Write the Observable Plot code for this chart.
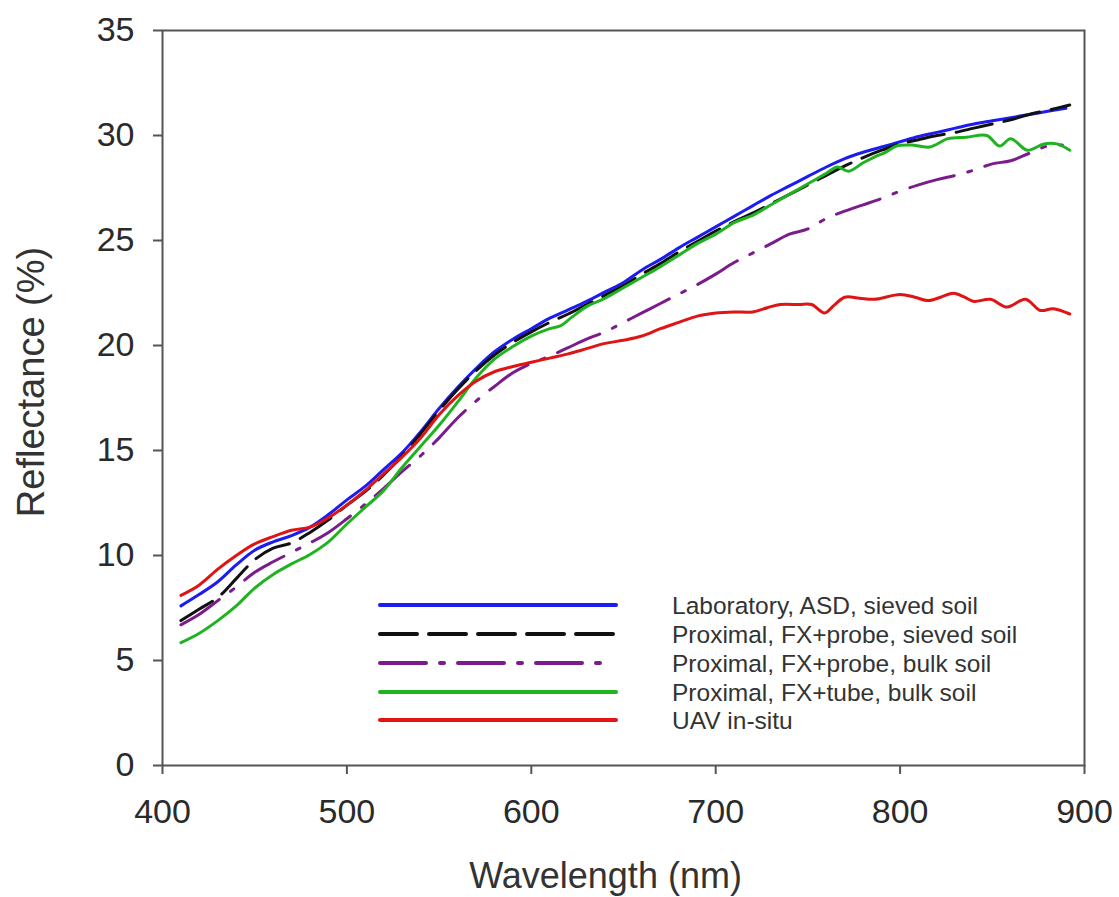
<!DOCTYPE html>
<html>
<head>
<meta charset="utf-8">
<script src="https://cdn.jsdelivr.net/npm/d3@7"></script>
<script src="https://cdn.jsdelivr.net/npm/@observablehq/plot@0.6"></script>
<style>
  html, body { margin: 0; padding: 0; background: #fff; }
  #chart svg { display: block; }
</style>
</head>
<body>
<div id="chart"></div>
<script>
// ---- Data ----
const xTicks = [400, 500, 600, 700, 800, 900];
const yTicks = [0, 5, 10, 15, 20, 25, 30, 35];

const seriesNames = [
  "Laboratory, ASD, sieved soil",
  "Proximal, FX+probe, sieved soil",
  "Proximal, FX+probe, bulk soil",
  "Proximal, FX+tube, bulk soil",
  "UAV in-situ"
];
const seriesColors = ["#1c1cf0", "#111111", "#7a1c8c", "#1fb41f", "#e01414"];
const seriesDash = [null, "37,12", "46,14,4,14", null, null];

// Laboratory, ASD, sieved soil
const labWl = [410,420,430,440,450,460,470,480,490,500,510,520,530,540,550,560,570,580,590,600,610,620,630,640,650,660,670,680,690,700,710,720,730,740,750,760,770,780,790,800,810,820,830,840,850,860,870,880,890];
const labR  = [7.6,8.15,8.75,9.55,10.25,10.65,10.95,11.35,11.95,12.65,13.3,14.1,14.9,15.9,17.0,18.0,18.9,19.7,20.3,20.8,21.3,21.7,22.1,22.55,23.0,23.6,24.1,24.65,25.15,25.65,26.15,26.65,27.15,27.6,28.05,28.5,28.9,29.2,29.45,29.7,29.95,30.15,30.35,30.55,30.7,30.85,31.0,31.15,31.3];

// Proximal, FX+probe, sieved soil
const probeSievedWl = [410,420,430,440,450,460,470,480,490,500,510,520,530,540,550,560,570,580,590,600,610,620,630,640,650,660,670,680,690,700,710,720,730,740,750,760,770,780,790,800,810,820,830,840,850,860,870,880,892];
const probeSievedR  = [6.9,7.45,8.0,8.9,9.8,10.35,10.6,11.1,11.7,12.4,13.05,13.85,14.75,15.8,16.9,17.9,18.8,19.55,20.15,20.65,21.1,21.5,21.95,22.4,22.85,23.4,23.9,24.45,24.95,25.45,25.9,26.3,26.75,27.2,27.65,28.1,28.55,28.95,29.3,29.6,29.8,30.0,30.15,30.35,30.55,30.75,31.0,31.2,31.45];

// Proximal, FX+probe, bulk soil
const probeBulkWl = [410,420,430,440,450,460,470,480,490,500,510,520,530,540,550,560,570,580,590,600,610,620,630,640,650,660,670,680,690,700,710,720,730,740,750,760,770,780,790,800,810,820,830,840,850,860,870,880,888];
const probeBulkR  = [6.7,7.2,7.85,8.5,9.2,9.7,10.15,10.6,11.1,11.75,12.45,13.2,14.0,14.75,15.6,16.55,17.35,18.05,18.7,19.15,19.5,19.9,20.3,20.65,21.1,21.55,22.0,22.45,22.9,23.4,23.95,24.4,24.85,25.3,25.55,26.05,26.4,26.7,27.0,27.35,27.65,27.9,28.1,28.35,28.65,28.8,29.15,29.5,29.55];

// Proximal, FX+tube, bulk soil
const tubeWl = [410,420,430,440,450,460,470,480,490,500,510,520,530,540,550,560,570,580,590,600,610,616,622,630,640,650,660,670,680,690,700,710,720,730,740,750,760,766,772,780,786,792,798,806,816,826,836,847,854,860,869,878,885,892];
const tubeR  = [5.85,6.3,6.9,7.6,8.45,9.1,9.6,10.05,10.65,11.5,12.3,13.1,14.2,15.2,16.2,17.3,18.45,19.35,19.95,20.45,20.8,20.95,21.35,21.85,22.25,22.75,23.25,23.75,24.3,24.85,25.3,25.85,26.2,26.7,27.2,27.7,28.2,28.5,28.3,28.7,28.97,29.2,29.5,29.55,29.45,29.85,29.92,30.0,29.5,29.85,29.3,29.6,29.6,29.3];

// UAV in-situ
const uavWl = [410,420,430,440,450,460,470,480,490,500,510,520,530,540,550,560,570,580,590,600,610,620,630,640,650,660,670,680,690,700,710,720,728,735,745,752,759,764,770,778,786,800,808,815,822,829,835,840,849,858,868,876,883,892];
const uavR  = [8.1,8.6,9.35,10.0,10.55,10.9,11.2,11.35,11.8,12.4,13.1,13.9,14.7,15.6,16.7,17.6,18.3,18.75,19.0,19.2,19.4,19.6,19.85,20.1,20.25,20.45,20.8,21.1,21.4,21.55,21.6,21.6,21.8,21.95,21.95,21.95,21.55,21.9,22.3,22.25,22.2,22.43,22.3,22.14,22.3,22.49,22.3,22.1,22.2,21.83,22.2,21.67,21.75,21.5];

const allWl = [labWl, probeSievedWl, probeBulkWl, tubeWl, uavWl];
const allR  = [labR, probeSievedR, probeBulkR, tubeR, uavR];

// ---- Build ----
const font = "Arial, 'Liberation Sans', Helvetica, sans-serif";
const lineMarks = allWl.map((wl, i) => {
  const rows = wl.map((w, j) => ({wl: w, r: allR[i][j]}));
  return Plot.line(rows, {
    x: "wl", y: "r",
    stroke: seriesColors[i],
    strokeWidth: 3,
    strokeDasharray: seriesDash[i] || undefined,
    curve: "catmull-rom"
  });
});

const plot = Plot.plot({
  width: 1119,
  height: 897,
  marginLeft: 162,
  marginRight: 35,
  marginTop: 30,
  marginBottom: 132,
  style: {fontFamily: font, background: "#fff", color: "#333"},
  x: {domain: [400, 900]},
  y: {domain: [0, 35]},
  marks: [
    Plot.axisX({ticks: xTicks, tickSize: 9, tickPadding: 24, fontSize: 34, label: null, stroke: "#555", strokeWidth: 2, fill: "#2a2a2a"}),
    Plot.axisY({ticks: yTicks, tickSize: 9, tickPadding: 19, fontSize: 34, label: null, stroke: "#555", strokeWidth: 2, fill: "#2a2a2a"}),
    ...lineMarks,
    Plot.frame({stroke: "#555", strokeWidth: 2}),
    Plot.text(["Wavelength (nm)"], {frameAnchor: "bottom", dx: -18, dy: 122, fontSize: 36, fill: "#333"}),
    Plot.text(["Reflectance (%)"], {frameAnchor: "left", textAnchor: "middle", dx: -131, dy: -16, rotate: -90, fontSize: 38, fill: "#333"})
  ]
});

// ---- Legend (inside the plot area, as in the reference) ----
const svg = d3.select(plot);
const legend = svg.append("g").attr("font-family", font).attr("text-anchor", "start");
const rowY = [605, 634, 663, 692, 720];
const legendEnd = [616, 616, 600, 616, 616];
seriesNames.forEach((name, i) => {
  legend.append("line")
    .attr("x1", 380).attr("x2", legendEnd[i])
    .attr("y1", rowY[i]).attr("y2", rowY[i])
    .attr("stroke", seriesColors[i])
    .attr("stroke-width", 4)
    .attr("stroke-dasharray", seriesDash[i])
    .attr("stroke-linecap", "round");
  legend.append("text")
    .attr("x", 672).attr("y", rowY[i])
    .attr("dy", "0.35em")
    .attr("text-anchor", "start")
    .attr("font-size", 24.5)
    .attr("fill", "#333")
    .text(name);
});

document.getElementById("chart").appendChild(plot);
</script>
</body>
</html>
